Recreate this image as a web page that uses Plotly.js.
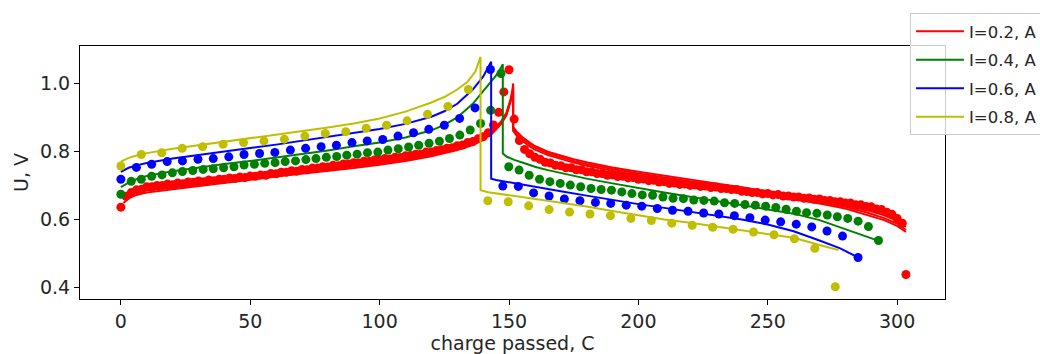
<!DOCTYPE html>
<html><head><meta charset="utf-8">
<script src="https://cdn.plot.ly/plotly-3.0.1.min.js"></script>
<style>html,body{margin:0;padding:0;background:#fff;} #chart{width:1040px;height:354px;}</style>
</head><body><div id="chart"></div>
<script>
// ---- tick labels / legend labels ----
const xTicks = [0, 50, 100, 150, 200, 250, 300];
const yTicks = [0.4, 0.6, 0.8, 1.0];
const yTickText = ['0.4', '0.6', '0.8', '1.0'];
const legendLabels = ['I=0.2, A', 'I=0.4, A', 'I=0.6, A', 'I=0.8, A'];

// ---- I=0.2 experimental points ----
const redQc = [0,2,4,6,8,10,12,14,16,18,
 20,22,24,26,28,30,32,34,36,38,
 40,42,44,46,48,50,52,54,56,58,
 60,62,64,66,68,70,72,74,76,78,
 80,82,84,86,88,90,92,94,96,98,
 100,102,104,106,108,110,112,114,116,118,
 120,122,124,126,128,130,132,134,136,138,
 140,142,144,146,148,150];
const redUc = [0.636,0.668,0.679,0.687,0.689,0.696,0.696,0.700,0.700,0.704,
 0.702,0.707,0.705,0.710,0.709,0.713,0.711,0.716,0.714,0.718,
 0.718,0.722,0.720,0.725,0.723,0.728,0.727,0.731,0.730,0.735,
 0.734,0.739,0.739,0.743,0.742,0.747,0.746,0.751,0.751,0.755,
 0.754,0.759,0.758,0.763,0.763,0.767,0.766,0.771,0.770,0.775,
 0.775,0.779,0.778,0.783,0.782,0.787,0.788,0.792,0.792,0.798,
 0.798,0.803,0.805,0.809,0.811,0.817,0.819,0.826,0.829,0.837,
 0.843,0.855,0.878,0.915,0.975,1.040];
const redQd = [152,154,156,158,160,162,164,166,168,170,
 172,174,176,178,180,182,184,186,188,190,
 192,194,196,198,200,202,204,206,208,210,
 212,214,216,218,220,222,224,226,228,230,
 232,234,236,238,240,242,244,246,248,250,
 252,254,256,258,260,262,264,266,268,270,
 272,274,276,278,280,282,284,286,288,290,
 292,294,296,298,300,302,303.4];
const redUd = [0.895,0.832,0.806,0.793,0.783,0.777,0.768,0.766,0.759,0.758,
 0.752,0.752,0.746,0.746,0.740,0.740,0.735,0.735,0.730,0.731,
 0.726,0.727,0.722,0.723,0.718,0.719,0.714,0.715,0.710,0.711,
 0.706,0.707,0.703,0.704,0.700,0.701,0.697,0.698,0.694,0.695,
 0.691,0.691,0.688,0.688,0.683,0.682,0.679,0.679,0.675,0.676,
 0.672,0.673,0.669,0.669,0.666,0.666,0.662,0.663,0.659,0.660,
 0.656,0.656,0.652,0.652,0.648,0.648,0.643,0.643,0.638,0.637,
 0.631,0.629,0.621,0.615,0.603,0.589,0.438];

// ---- I=0.2 model lines (three fits) ----
const redLineQ = [1,3,6,10,20,30,40,50,60,70,80,90,100,110,120,130,136,140,144,147,149,150.5,151.3,151.6,
 151.6,153,155,158,160,165,170,175,180,185,190,200,210,220,230,240,250,260,270,280,288,295,300,303.4];
const redLine1U = [0.668,0.678,0.685,0.690,0.698,0.707,0.716,0.725,0.734,0.742,0.750,0.759,0.769,0.780,0.794,0.812,0.827,0.842,0.864,0.889,0.914,0.950,0.978,1.000,
 0.872,0.858,0.843,0.826,0.816,0.799,0.787,0.777,0.768,0.760,0.753,0.740,0.728,0.717,0.706,0.695,0.683,0.671,0.658,0.643,0.628,0.612,0.596,0.578];
const redLine2U = [0.658,0.670,0.679,0.685,0.694,0.703,0.712,0.721,0.730,0.738,0.746,0.755,0.765,0.776,0.790,0.808,0.823,0.838,0.860,0.885,0.910,0.945,0.972,0.990,
 0.866,0.852,0.838,0.821,0.811,0.794,0.782,0.772,0.763,0.755,0.748,0.735,0.723,0.712,0.701,0.690,0.678,0.666,0.652,0.637,0.621,0.604,0.588,0.569];
const redLine3U = [0.648,0.662,0.672,0.679,0.689,0.699,0.708,0.717,0.726,0.734,0.742,0.751,0.761,0.772,0.786,0.804,0.819,0.834,0.856,0.881,0.906,0.940,0.965,0.980,
 0.860,0.846,0.832,0.815,0.805,0.789,0.777,0.767,0.758,0.750,0.743,0.730,0.718,0.707,0.696,0.685,0.673,0.661,0.647,0.632,0.615,0.598,0.581,0.563];

// ---- I=0.4 ----
const greenQc = [0,4,7.9,11.9,15.9,19.9,23.8,27.8,31.8,35.7,39.7,43.7,47.6,51.6,55.6,59.6,63.5,67.5,71.5,75.4,
 79.4,83.4,87.3,91.3,95.3,99.3,103.2,107.2,111.2,115.1,119.1,123.1,127,131,135,139,142.9,146.9];
const greenUc = [0.674,0.712,0.718,0.727,0.731,0.737,0.741,0.744,0.747,0.749,0.752,0.755,0.760,0.762,0.765,0.767,0.770,0.772,0.776,0.779,
 0.783,0.785,0.789,0.792,0.796,0.798,0.804,0.808,0.813,0.818,0.824,0.830,0.838,0.848,0.863,0.882,0.921,1.029];
const greenQd = [149.9,153.9,157.8,161.8,165.8,169.8,173.7,177.7,181.7,185.6,189.6,193.6,197.5,201.5,205.5,209.5,213.4,217.4,221.4,225.3,
 229.3,233.3,237.2,241.2,245.2,249.2,253.1,257.1,261.1,265,269,273,276.9,280.9,284.9,288.9,292.8];
const greenUd = [0.755,0.745,0.730,0.718,0.711,0.706,0.701,0.696,0.691,0.688,0.686,0.681,0.676,0.672,0.671,0.666,0.662,0.661,0.657,0.656,
 0.654,0.649,0.647,0.644,0.642,0.639,0.635,0.630,0.624,0.620,0.618,0.613,0.608,0.603,0.595,0.579,0.538];
const greenLineQ = [0,3,6,10,20,30,40,50,60,70,80,90,100,110,120,125,130,136,142.5,145.5,147.6,
 147.6,149,152,156,160,165,170,180,190,200,210,220,230,240,250,260,270,278,286,292.9];
const greenLineU = [0.695,0.708,0.718,0.728,0.742,0.753,0.763,0.772,0.782,0.792,0.803,0.815,0.826,0.841,0.862,0.878,0.900,0.940,1.000,1.028,1.056,
 0.794,0.785,0.775,0.765,0.755,0.745,0.736,0.720,0.706,0.692,0.679,0.667,0.655,0.643,0.631,0.617,0.598,0.576,0.555,0.537];

// ---- I=0.6 ----
const blueQc = [0,6,11.9,17.9,23.8,29.8,35.7,41.7,47.6,53.6,59.5,65.5,71.4,77.4,83.3,89.3,95.2,101.2,107.1,113.1,119,125,130.9,136.9,142.8];
const blueUc = [0.718,0.753,0.762,0.770,0.772,0.777,0.779,0.784,0.791,0.794,0.797,0.804,0.809,0.814,0.818,0.826,0.831,0.835,0.845,0.855,0.865,0.877,0.897,0.928,1.041];
const blueQd = [147.6,153.6,159.5,165.5,171.4,177.4,183.4,189.3,195.3,201.3,207.3,213.2,219.2,225.2,231.1,237.1,243.1,249,255,261,267,272.9,278.9,284.9];
const blueUd = [0.698,0.697,0.678,0.669,0.660,0.655,0.650,0.647,0.642,0.639,0.632,0.627,0.624,0.619,0.616,0.611,0.605,0.598,0.593,0.586,0.578,0.566,0.551,0.488];
const blueLineQ = [0,3,6,10,20,30,40,50,60,70,80,90,100,110,120,125,130,136,140,143.1,
 143.1,145,150,160,170,180,190,200,210,220,230,240,250,260,270,278,285];
const blueLineU = [0.740,0.752,0.759,0.766,0.779,0.790,0.800,0.810,0.820,0.831,0.842,0.855,0.866,0.881,0.902,0.918,0.940,0.982,1.020,1.064,
 0.720,0.716,0.709,0.696,0.683,0.670,0.657,0.645,0.634,0.623,0.612,0.600,0.585,0.565,0.538,0.515,0.488];

// ---- I=0.8 ----
const yellowQc = [0,7.9,15.8,23.7,31.6,39.5,47.4,55.3,63.2,71.1,79,86.9,94.8,102.7,110.6,118.5,126.4,134.3];
const yellowUc = [0.757,0.791,0.796,0.809,0.814,0.821,0.826,0.831,0.836,0.845,0.853,0.858,0.868,0.877,0.890,0.909,0.932,0.982];
const yellowQd = [141.8,149.7,157.6,165.5,173.4,181.3,189.2,197.1,205,212.9,220.8,228.7,236.6,244.5,252.4,260.3,268.2,276.1];
const yellowUd = [0.655,0.652,0.640,0.629,0.622,0.616,0.611,0.603,0.597,0.589,0.583,0.577,0.571,0.563,0.555,0.543,0.515,0.402];
const yellowLineQ = [0,3,6,10,20,30,40,50,60,70,80,90,100,110,120,125,130,134,137,139,
 139,142,150,160,170,180,190,200,210,220,230,240,250,260,270,274,277.3];
const yellowLineU = [0.770,0.781,0.788,0.795,0.808,0.818,0.828,0.838,0.850,0.860,0.870,0.882,0.897,0.917,0.944,0.960,0.982,1.005,1.035,1.078,
 0.686,0.680,0.671,0.661,0.650,0.638,0.625,0.612,0.600,0.590,0.579,0.569,0.559,0.546,0.525,0.518,0.510];

const RED = '#ff0000', GREEN = '#008000', BLUE = '#0000ff', YELLOW = '#bfbf00';
const FONT = 'DejaVu Sans, sans-serif';

function dots(q, u, color) {
  return {x: q, y: u, type: 'scatter', mode: 'markers', marker: {color: color, size: 9},
          showlegend: false, hoverinfo: 'skip'};
}
function model(q, u, color, name, group, show) {
  return {x: q, y: u, type: 'scatter', mode: 'lines', line: {color: color, width: 2},
          name: name, legendgroup: group, showlegend: show, hoverinfo: 'skip'};
}

const traces = [
  dots(redQc.concat(redQd), redUc.concat(redUd), RED),
  model(redLineQ, redLine1U, RED, legendLabels[0], 'g0', true),
  model(redLineQ, redLine2U, RED, legendLabels[0], 'g0', false),
  model(redLineQ, redLine3U, RED, legendLabels[0], 'g0', false),
  dots(greenQc.concat(greenQd), greenUc.concat(greenUd), GREEN),
  model(greenLineQ, greenLineU, GREEN, legendLabels[1], 'g1', true),
  dots(blueQc.concat(blueQd), blueUc.concat(blueUd), BLUE),
  model(blueLineQ, blueLineU, BLUE, legendLabels[2], 'g2', true),
  dots(yellowQc.concat(yellowQd), yellowUc.concat(yellowUd), YELLOW),
  model(yellowLineQ, yellowLineU, YELLOW, legendLabels[3], 'g3', true)
];

const axisCommon = {
  showline: true, mirror: true, linecolor: '#000', linewidth: 1,
  ticks: 'outside', ticklen: 5, tickwidth: 1, tickcolor: '#000',
  showgrid: false, zeroline: false,
  tickfont: {family: FONT, size: 19, color: '#262626'}
};

const layout = {
  width: 1040, height: 354,
  margin: {l: 80, r: 95, t: 46, b: 55, autoexpand: false},
  paper_bgcolor: '#fff', plot_bgcolor: '#fff',
  xaxis: Object.assign({}, axisCommon, {
    range: [-15.8, 318.5], tickmode: 'array', tickvals: xTicks,
    title: {text: 'charge passed, C', font: {family: FONT, size: 19, color: '#262626'}, standoff: 4}
  }),
  yaxis: Object.assign({}, axisCommon, {
    range: [0.366, 1.11], tickmode: 'array', tickvals: yTicks, ticktext: yTickText,
    title: {text: 'U, V', font: {family: FONT, size: 19, color: '#262626'}, standoff: 6}
  }),
  legend: {
    x: 0.9595, y: 1.13, xanchor: 'left', yanchor: 'top',
    bgcolor: 'rgba(255,255,255,0.8)', bordercolor: '#cccccc', borderwidth: 1,
    font: {family: FONT, size: 16.5, color: '#262626'},
    tracegroupgap: 4, itemwidth: 48
  },
  showlegend: true
};

Plotly.newPlot('chart', traces, layout, {displayModeBar: false, staticPlot: true});
</script>
</body></html>
